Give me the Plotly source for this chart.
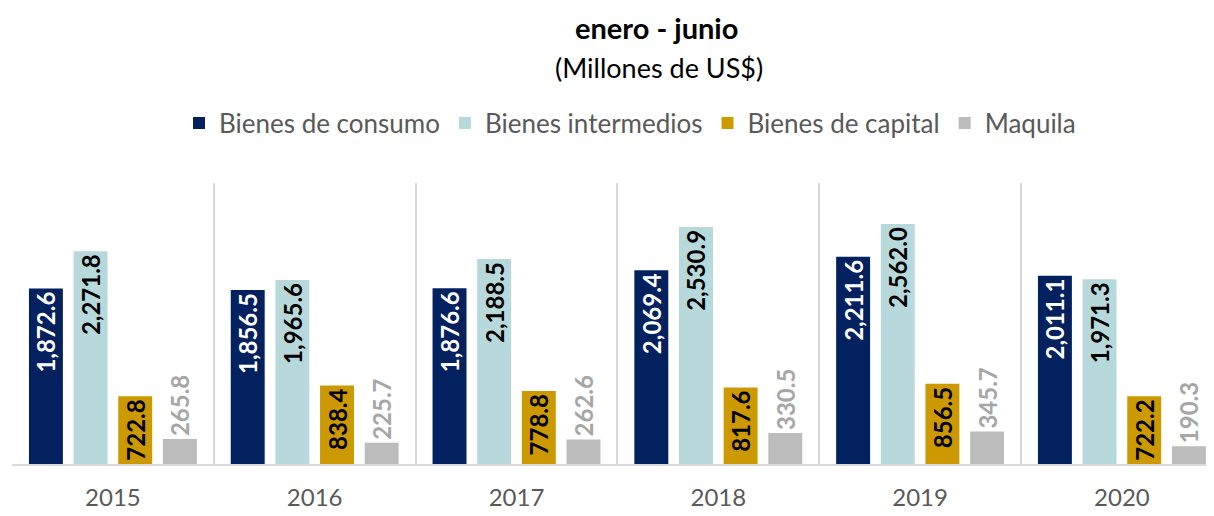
import plotly.graph_objects as go

years = ["2015", "2016", "2017", "2018", "2019", "2020"]
consumo = [1872.6, 1856.5, 1876.6, 2069.4, 2211.6, 2011.1]
intermedios = [2271.8, 1965.6, 2188.5, 2530.9, 2562.0, 1971.3]
capital = [722.8, 838.4, 778.8, 817.6, 856.5, 722.2]
maquila = [265.8, 225.7, 262.6, 330.5, 345.7, 190.3]

series_names = ["Bienes de consumo", "Bienes intermedios", "Bienes de capital", "Maquila"]
series_values = [consumo, intermedios, capital, maquila]
colors = ["#03205f", "#b8d9dc", "#cc9a00", "#bcbcbc"]
label_colors = ["#ffffff", "#000000", "#000000", "#a6a6a6"]
positions = ["inside", "inside", "inside", "outside"]

FONT = "Lato"
LSIZE = 24
# the page body has an 8px margin, so figure coords = screen coords - 8
OFF = 8
W, H = 1214 - OFF, 516 - OFF
ML, MR, MT = 12 - OFF, 0, 183 - OFF
plot_h = 281
MB = H - MT - plot_h
plot_w = W - ML - MR


def px_x(sx):
    return (sx - OFF - ML) / plot_w


def px_y(sy):
    return 1 + (MT - (sy - OFF)) / plot_h


fig = go.Figure()
for name, vals, col, lcol, pos in zip(series_names, series_values, colors, label_colors, positions):
    tf = dict(family=FONT, size=LSIZE, color=lcol, weight="bold")
    fig.add_trace(go.Bar(
        x=years, y=vals, name=name,
        marker=dict(color=col, line=dict(width=0)),
        text=[f"{v:,.1f}" for v in vals],
        textposition=pos,
        insidetextanchor="end",
        textangle=-90,
        cliponaxis=False,
        textfont=tf, insidetextfont=tf, outsidetextfont=tf,
    ))

px_per_cat = 201.8
x_end = -0.5 + plot_w / px_per_cat

fig.update_layout(
    width=W, height=H,
    margin=dict(l=ML, r=MR, t=MT, b=MB, autoexpand=False),
    paper_bgcolor="white", plot_bgcolor="white",
    barmode="group", bargap=0.115, bargroupgap=0.24,
    uniformtext=dict(minsize=LSIZE, mode="show"),
    font=dict(family=FONT, color="#595959"),
    legend=dict(
        orientation="h", x=px_x(630), xanchor="center",
        y=px_y(123), yanchor="middle",
        font=dict(family=FONT, size=26, color="#595959"),
        traceorder="normal",
    ),
    xaxis=dict(
        type="category", range=[-0.5, x_end], automargin=False,
        tickson="boundaries", showgrid=True, gridcolor="#d9d9d9", gridwidth=1.5,
        showline=True, linecolor="#d9d9d9", linewidth=2,
        ticks="", ticklabelstandoff=11,
        tickfont=dict(family=FONT, size=24, color="#595959"),
    ),
    yaxis=dict(range=[0, 3000], visible=False, showgrid=False, automargin=False),
    annotations=[
        dict(text="<b>enero - junio</b>", xref="paper", yref="paper",
             x=px_x(656), y=px_y(8), xanchor="center", yanchor="top",
             showarrow=False, font=dict(family=FONT, size=29, color="#000000")),
        dict(text="(Millones de US$)", xref="paper", yref="paper",
             x=px_x(659), y=px_y(67), xanchor="center", yanchor="middle",
             showarrow=False, font=dict(family=FONT, size=27, color="#000000")),
    ],
)

fig.write_html("out.html")
